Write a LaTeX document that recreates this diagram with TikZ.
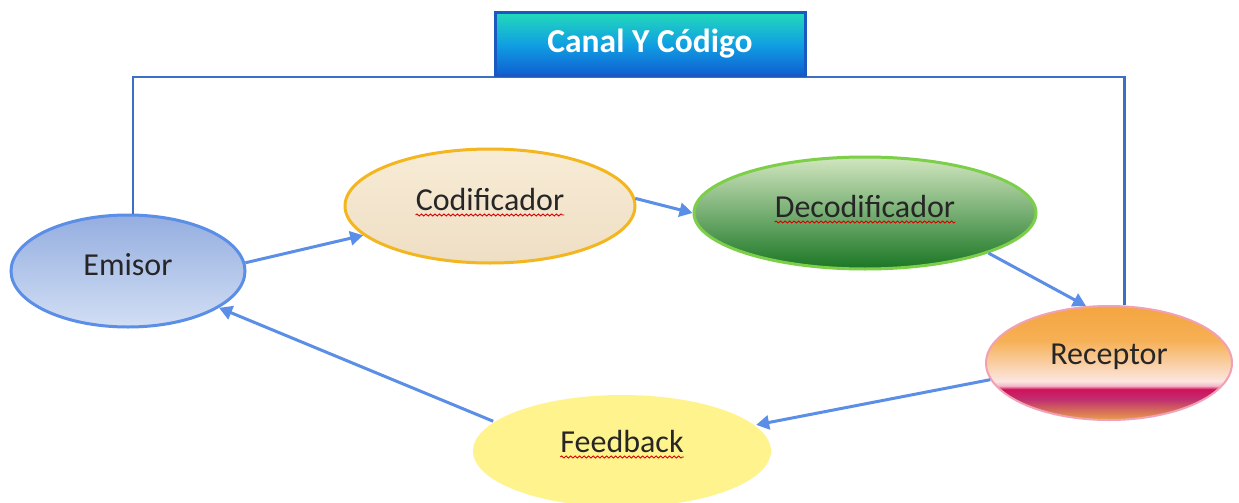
\documentclass[tikz,border=0pt]{standalone}
\usepackage{fontspec}
\setmainfont{Carlito}
\usetikzlibrary{shapes.geometric,arrows.meta,decorations.pathmorphing}

\definecolor{arrowblue}{HTML}{5B8EE6}
\definecolor{framblue}{HTML}{3D70C2}
\definecolor{titleborder}{HTML}{1A5AC0}

\definecolor{recA}{HTML}{E8A048}
\definecolor{recB}{HTML}{C03070}
\definecolor{recC}{HTML}{D0105A}
\definecolor{recD}{HTML}{F2B8C8}
\definecolor{recE}{HTML}{FCE6E0}
\definecolor{recF}{HTML}{F6B055}
\definecolor{recG}{HTML}{F4A540}

\definecolor{titA}{HTML}{0F5ED2}
\definecolor{titB}{HTML}{10A0E2}
\definecolor{titC}{HTML}{22DABA}

% Receptor: orange cap, pale band, sharp magenta stripe, orange base
\pgfdeclareverticalshading{receptorshade}{100bp}{%
  color(0bp)=(recA);
  color(25bp)=(recA);
  color(34bp)=(recB);
  color(38.5bp)=(recC);
  color(40bp)=(recD);
  color(42bp)=(recE);
  color(60bp)=(recF);
  color(75bp)=(recG);
  color(100bp)=(recG)}

% Title bar: teal top fading to blue
\pgfdeclareverticalshading{titleshade}{100bp}{%
  color(0bp)=(titA);
  color(25bp)=(titA);
  color(50bp)=(titB);
  color(75bp)=(titC);
  color(100bp)=(titC)}

\tikzset{
  bubble/.style={ellipse, inner sep=0pt, line width=3pt},
  caption/.style={inner sep=0pt, font=\fontsize{32}{32}\selectfont,
    text=black!85, yshift=6pt},
  flow/.style={draw=arrowblue, line width=3pt,
    -{Triangle[length=13pt,width=14pt]}},
  squiggle/.style={draw=red!85!black, line width=0.9pt,
    decorate, decoration={snake, amplitude=1pt, segment length=4.5pt}},
}

\begin{document}
\begin{tikzpicture}[x=1pt,y=-1pt]
\useasboundingbox (0,0) rectangle (1239,503);
\fill[white] (0,0) rectangle (1239,503);
\clip (0,0) rectangle (1239,503);

% the five stages
\node[bubble, minimum width=234pt, minimum height=112pt, draw=arrowblue,
  top color={rgb,255:red,148;green,174;blue,224},
  bottom color={rgb,255:red,210;green,222;blue,244}]
  (emisor) at (128,271) {};
\node[caption] (emisortext) at (emisor) {Emisor};

\node[bubble, minimum width=290pt, minimum height=114pt,
  draw={rgb,255:red,243;green,182;blue,31},
  top color={rgb,255:red,248;green,236;blue,214},
  bottom color={rgb,255:red,238;green,222;blue,196}]
  (cod) at (490,206) {};
\node[caption] (codtext) at (cod) {Codificador};

\node[bubble, minimum width=342pt, minimum height=112pt,
  draw={rgb,255:red,125;green,207;blue,74},
  top color={rgb,255:red,210;green,230;blue,192},
  bottom color={rgb,255:red,26;green,118;blue,36}]
  (dec) at (865,213) {};
\node[caption] (dectext) at (dec) {Decodificador};

\node[bubble, minimum width=246pt, minimum height=114pt,
  draw={rgb,255:red,242;green,160;blue,180}, line width=2pt,
  shading=receptorshade]
  (rec) at (1109,363) {};
\node[caption] (rectext) at (rec) {Receptor};

\node[bubble, minimum width=298pt, minimum height=112pt,
  fill={rgb,255:red,255;green,243;blue,142}]
  (feed) at (622,451) {};
\node[caption, yshift=3pt] (feedtext) at (feed) {Feedback};

% spell-check underlines
\foreach \n in {codtext,dectext,feedtext}
  \draw[squiggle] ([yshift=-4pt]\n.base west) -- ([yshift=-4pt]\n.base east);

% frame joining sender and receiver through the title bar
\draw[framblue, line width=2.5pt]
  (emisor.85) |- (650,77) -| (rec.75);

\node[draw=titleborder, line width=3pt, shading=titleshade,
  minimum width=310pt, minimum height=63pt, inner sep=0pt,
  text=white, font=\bfseries\fontsize{33.5}{33.5}\selectfont]
  (title) at (650,44) {Canal Y Código};

% communication cycle
\draw[flow] (emisor.4) -- (cod.193);
\draw[flow] (cod.3) -- (dec.180);
\draw[flow] (dec.342) -- (rec.112);
\draw[flow] (rec.188) -- (feed.11);
\draw[flow] (feed.167) -- (emisor.338);
\end{tikzpicture}
\end{document}
